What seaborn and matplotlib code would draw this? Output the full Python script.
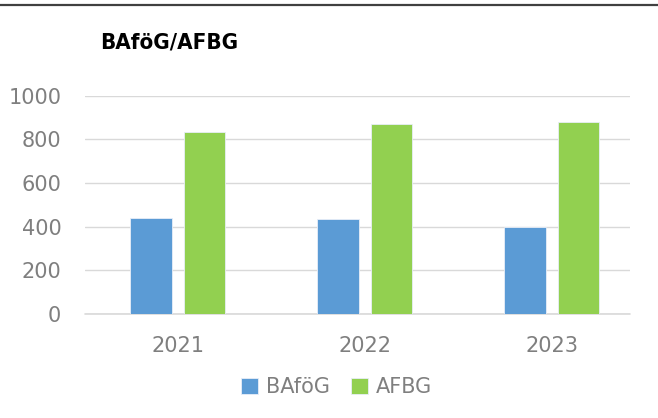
import pandas as pd
import matplotlib.pyplot as plt
import seaborn as sns
from matplotlib.lines import Line2D

# Data
years = ["2021", "2022", "2023"]
bafoeg = [440, 436, 398]
afbg = [834, 869, 881]
series_names = ["BAföG", "AFBG"]
colors = ["#5B9BD5", "#92D050"]

df = pd.DataFrame({
    "year": years * 2,
    "value": bafoeg + afbg,
    "series": [series_names[0]] * 3 + [series_names[1]] * 3,
})

sns.set_style("white")
plt.rcParams["font.family"] = ["DejaVu Sans"]

fig = plt.figure(figsize=(6.58, 4.18), dpi=100)
ax = fig.add_axes([0.129, 0.249, 0.828, 0.522])

sns.barplot(
    data=df, x="year", y="value", hue="series",
    palette=colors, saturation=1, width=0.572, gap=0.224,
    edgecolor="#e8eef8", linewidth=0.6, ax=ax,
)

ax.set_ylim(0, 1000)
ax.set_xlim(-0.497, 2.417)
ax.set_yticks(range(0, 1001, 200))
ax.yaxis.grid(True, color="#d9d9d9", linewidth=1.0)
ax.axhline(0, color="#d9d9d9", linewidth=1.2, clip_on=False, zorder=0.5)
ax.set_axisbelow(True)
for s in ax.spines.values():
    s.set_visible(False)

ax.set_xlabel("")
ax.set_ylabel("")
ax.tick_params(axis="y", length=0, pad=17, labelsize=15, labelcolor="#7f7f7f")
ax.tick_params(axis="x", length=0, pad=16, labelsize=15, labelcolor="#7f7f7f")

ax.legend(
    handles=ax.get_legend_handles_labels()[0],
    labels=series_names,
    loc="center", bbox_to_anchor=(337 / 658, 1 - 387 / 418),
    bbox_transform=fig.transFigure, ncol=2, frameon=False,
    fontsize=15, labelcolor="#7f7f7f",
    handlelength=0.8, handleheight=0.8, handletextpad=0.4,
    columnspacing=1.0,
)

fig.text(100 / 658, 1 - 42 / 418, "BAföG/AFBG", fontsize=16,
         fontweight="bold", fontstretch="condensed", family=["DejaVu Sans"],
         va="center", ha="left", color="black")

fig.add_artist(Line2D([0, 1], [1 - 5 / 418, 1 - 5 / 418],
                      color="#404040", linewidth=1.6, transform=fig.transFigure))

fig.savefig("out.png", dpi=100)
